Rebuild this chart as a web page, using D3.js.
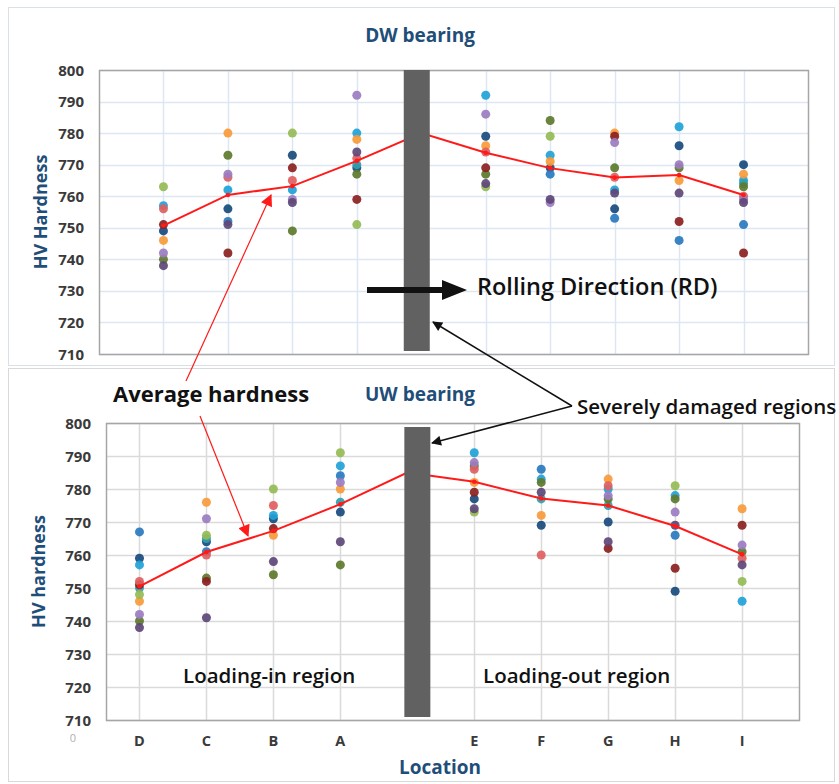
<!DOCTYPE html>
<html>
<head>
<meta charset="utf-8">
<script src="https://cdn.jsdelivr.net/npm/d3@7"></script>
<style>
  body { margin: 0; background: #fff; }
  svg { display: block; font-family: "Open Sans", sans-serif; }
</style>
</head>
<body>
<svg id="chart" width="839" height="784"></svg>
<script>
// locations along the bearing, index 5 is the damaged zone (hidden by the bar)
const locations = ['D', 'C', 'B', 'A', 'E', 'F', 'G', 'H', 'I'];
const locIndex = [1, 2, 3, 4, 6, 7, 8, 9, 10];
const yTicks = [710, 720, 730, 740, 750, 760, 770, 780, 790, 800];

const pointColors = {
  navy: '#184a7d',
  blue: '#2a7abf',
  lightblue: '#1fa2d8',
  teal: '#2f9fae',
  orange: '#f79a3a',
  lightgreen: '#95bb56',
  darkgreen: '#5d7a2c',
  darkred: '#8b1f1f',
  salmon: '#e06060',
  purple: '#9b7cc0',
  darkpurple: '#5e4777'
};

// DW bearing readings, one row per measurement line (D,C,B,A,E,F,G,H,I)
const dwSeries = [
  ['navy', [749, 756, 773, 769, 779, 769, 756, 776, 770]],
  ['blue', [null, 752, null, null, null, 767, 753, 746, 751]],
  ['lightblue', [757, 762, 762, 780, 792, 773, 762, 782, 765]],
  ['teal', [null, null, null, 770, null, null, null, null, 764]],
  ['orange', [746, 780, null, 778, 776, 771, 780, 765, 767]],
  ['lightgreen', [763, null, 780, 751, 763, 779, null, null, null]],
  ['darkgreen', [740, 773, 749, 767, 767, 784, 769, 769, 763]],
  ['darkred', [751, 742, 769, 759, 769, null, 779, 752, 742]],
  ['salmon', [756, 766, 765, 772, 774, null, 766, null, 760]],
  ['purple', [742, 767, 759, 792, 786, 758, 777, 770, 759]],
  ['darkpurple', [738, 751, 758, 774, 764, 759, 761, 761, 758]]
];

// UW bearing readings
const uwSeries = [
  ['navy', [759, 764, 771, 773, 777, 769, 770, 749, null]],
  ['blue', [767, 761, null, 784, null, 786, null, 766, null]],
  ['lightblue', [757, null, 772, 787, 791, 783, 780, 778, 746]],
  ['teal', [750, 765, null, 776, null, 777, 775, null, null]],
  ['orange', [746, 776, 766, 780, 782, 772, 783, null, 774]],
  ['lightgreen', [748, 766, 780, 791, 773, null, null, 781, 752]],
  ['darkgreen', [740, 753, 754, 757, 787, 782, 777, 777, 761]],
  ['darkred', [751, 752, 768, null, 779, null, 762, 756, 769]],
  ['salmon', [752, 760, 775, null, 786, 760, 781, null, 759]],
  ['purple', [742, 771, null, 782, 788, null, 778, 773, 763]],
  ['darkpurple', [738, 741, 758, 764, 774, 779, 764, 769, 757]]
];

// average hardness incl. the damaged zone (index 5)
const avgIndex = [1, 2, 3, 4, 5, 6, 7, 8, 9, 10];
const dwAvg = [750.7, 760.4, 763.2, 771.2, 780, 773.8, 768.9, 765.9, 766.7, 760.4];
const uwAvg = [750.5, 760.9, 767.3, 775.4, 785, 782.2, 777.1, 775, 768.8, 760.2];

const svg = d3.select('#chart');

const defs = svg.append('defs');
const marker = (id, color, w, h) => {
  defs.append('marker')
    .attr('id', id)
    .attr('viewBox', '0 0 10 10')
    .attr('refX', 9)
    .attr('refY', 5)
    .attr('markerUnits', 'userSpaceOnUse')
    .attr('markerWidth', w)
    .attr('markerHeight', h)
    .attr('orient', 'auto')
    .append('path')
    .attr('d', 'M0,0L10,5L0,10Z')
    .attr('fill', color);
};
marker('redHead', '#ff1a1a', 14, 12);
marker('blackHead', '#111', 13, 10);

// panel frames
svg.append('rect').attr('x', 8.5).attr('y', 7.5).attr('width', 826).attr('height', 358)
  .attr('fill', '#fff').attr('stroke', '#d8e0ea');
svg.append('rect').attr('x', 8.5).attr('y', 368.5).attr('width', 826).attr('height', 413)
  .attr('fill', '#fff').attr('stroke', '#d9d9d9');

const drawPanel = (cfg) => {
  const g = svg.append('g');
  const x = d3.scaleLinear().domain(cfg.xDomain).range([cfg.left, cfg.right]);
  const y = d3.scaleLinear().domain([710, 800]).range([cfg.bottom, cfg.top]);

  // grid
  g.append('g').selectAll('line').data(yTicks).enter().append('line')
    .attr('x1', cfg.left).attr('x2', cfg.right)
    .attr('y1', (d) => Math.round(y(d)) + 0.5).attr('y2', (d) => Math.round(y(d)) + 0.5)
    .attr('stroke', cfg.grid).attr('stroke-width', 1.5);
  g.append('g').selectAll('line').data(locIndex).enter().append('line')
    .attr('x1', (d) => Math.round(x(d)) + 0.5).attr('x2', (d) => Math.round(x(d)) + 0.5)
    .attr('y1', cfg.top).attr('y2', cfg.bottom)
    .attr('stroke', cfg.grid).attr('stroke-width', 1.5);

  g.append('rect')
    .attr('x', cfg.left + 0.5).attr('y', cfg.top + 0.5)
    .attr('width', cfg.right - cfg.left).attr('height', cfg.bottom - cfg.top)
    .attr('fill', 'none').attr('stroke', '#a6a6a6').attr('stroke-width', 1.5);

  // y tick labels
  g.append('g').selectAll('text').data(yTicks).enter().append('text')
    .attr('x', cfg.tickX).attr('y', (d) => y(d) + 5.5)
    .attr('text-anchor', 'end')
    .attr('font-size', 15).attr('font-weight', 700).attr('fill', '#3a3a3a')
    .text((d) => d);

  // y axis title
  g.append('text')
    .attr('transform', `translate(${cfg.titleX},${(cfg.top + cfg.bottom) / 2}) rotate(-90)`)
    .attr('text-anchor', 'middle')
    .attr('font-size', 18).attr('font-weight', 700).attr('fill', '#1f4e79')
    .text(cfg.yTitle);

  // scatter points
  cfg.series.forEach(([key, vals]) => {
    g.append('g').selectAll('circle')
      .data(vals.map((v, i) => ({ v, i: locIndex[i] })).filter((d) => d.v !== null))
      .enter().append('circle')
      .attr('cx', (d) => x(d.i))
      .attr('cy', (d) => y(d.v))
      .attr('r', 4.5)
      .attr('fill', pointColors[key])
      .attr('fill-opacity', 0.92);
  });

  // average line
  const line = d3.line().x((d) => x(d[0])).y((d) => y(d[1]));
  g.append('path')
    .datum(avgIndex.map((i, k) => [i, cfg.avg[k]]))
    .attr('d', line)
    .attr('fill', 'none').attr('stroke', '#ff1a1a').attr('stroke-width', 2);
  g.append('g').selectAll('circle')
    .data(avgIndex.map((i, k) => [i, cfg.avg[k]]))
    .enter().append('circle')
    .attr('cx', (d) => x(d[0])).attr('cy', (d) => y(d[1]))
    .attr('r', 2.3).attr('fill', '#ff1a1a');

  // damaged region bar
  g.append('rect')
    .attr('x', x(cfg.barAt) - 13).attr('y', cfg.barTop)
    .attr('width', 26).attr('height', cfg.barBottom - cfg.barTop)
    .attr('fill', '#616161');

  return { x, y };
};

drawPanel({
  series: dwSeries, avg: dwAvg, xDomain: [0, 11],
  left: 99, right: 808, top: 70, bottom: 354,
  grid: '#dde7f3', tickX: 84, titleX: 47, yTitle: 'HV Hardness',
  barAt: 4.93, barTop: 70, barBottom: 351
});

const uw = drawPanel({
  series: uwSeries, avg: uwAvg, xDomain: [0.5, 10.85],
  left: 106, right: 799, top: 423, bottom: 720,
  grid: '#dadada', tickX: 91, titleX: 45, yTitle: 'HV hardness',
  barAt: 5.15, barTop: 427, barBottom: 717
});

// x axis labels (bottom panel)
svg.append('g').selectAll('text').data(locations).enter().append('text')
  .attr('x', (d, i) => uw.x(locIndex[i]))
  .attr('y', 746)
  .attr('text-anchor', 'middle')
  .attr('font-size', 14.5).attr('font-weight', 700).attr('fill', '#3a3a3a')
  .text((d) => d);
svg.append('text').attr('x', 73).attr('y', 742).attr('text-anchor', 'middle')
  .attr('font-size', 11).attr('fill', '#b0b0b0').text('0');
svg.append('text').attr('x', 440).attr('y', 774).attr('text-anchor', 'middle')
  .attr('font-size', 19).attr('font-weight', 700).attr('fill', '#1f4e79').text('Location');

// titles
svg.append('text').attr('x', 420).attr('y', 42).attr('text-anchor', 'middle')
  .attr('font-size', 19).attr('font-weight', 700).attr('fill', '#1f4e79').text('DW bearing');
svg.append('text').attr('x', 420).attr('y', 401).attr('text-anchor', 'middle')
  .attr('font-size', 19).attr('font-weight', 700).attr('fill', '#1f4e79').text('UW bearing');

// annotations
svg.append('line').attr('x1', 367).attr('y1', 290).attr('x2', 446).attr('y2', 290)
  .attr('stroke', '#111').attr('stroke-width', 6);
svg.append('path').attr('d', 'M442,280L467,290L442,300Z').attr('fill', '#111');
svg.append('text').attr('x', 477).attr('y', 295)
  .attr('font-size', 23.5).attr('font-weight', 600).attr('fill', '#111')
  .text('Rolling Direction (RD)');

svg.append('text').attr('x', 113).attr('y', 402)
  .attr('font-size', 22).attr('font-weight', 700).attr('fill', '#111')
  .text('Average hardness');
svg.append('line').attr('x1', 186).attr('y1', 381).attr('x2', 271).attr('y2', 195)
  .attr('stroke', '#ff1a1a').attr('stroke-width', 1.2).attr('marker-end', 'url(#redHead)');
svg.append('line').attr('x1', 200).attr('y1', 416).attr('x2', 248).attr('y2', 536)
  .attr('stroke', '#ff1a1a').attr('stroke-width', 1.2).attr('marker-end', 'url(#redHead)');

svg.append('text').attr('x', 577).attr('y', 414)
  .attr('font-size', 20.5).attr('font-weight', 600).attr('fill', '#111')
  .text('Severely damaged regions');
svg.append('line').attr('x1', 572).attr('y1', 406).attr('x2', 433).attr('y2', 322)
  .attr('stroke', '#111').attr('stroke-width', 1.5).attr('marker-end', 'url(#blackHead)');
svg.append('line').attr('x1', 572).attr('y1', 406).attr('x2', 432).attr('y2', 443)
  .attr('stroke', '#111').attr('stroke-width', 1.5).attr('marker-end', 'url(#blackHead)');

svg.append('text').attr('x', 183).attr('y', 683)
  .attr('font-size', 20.5).attr('font-weight', 600).attr('fill', '#111')
  .text('Loading-in region');
svg.append('text').attr('x', 483).attr('y', 683)
  .attr('font-size', 20.5).attr('font-weight', 600).attr('fill', '#111')
  .text('Loading-out region');
</script>
</body>
</html>
